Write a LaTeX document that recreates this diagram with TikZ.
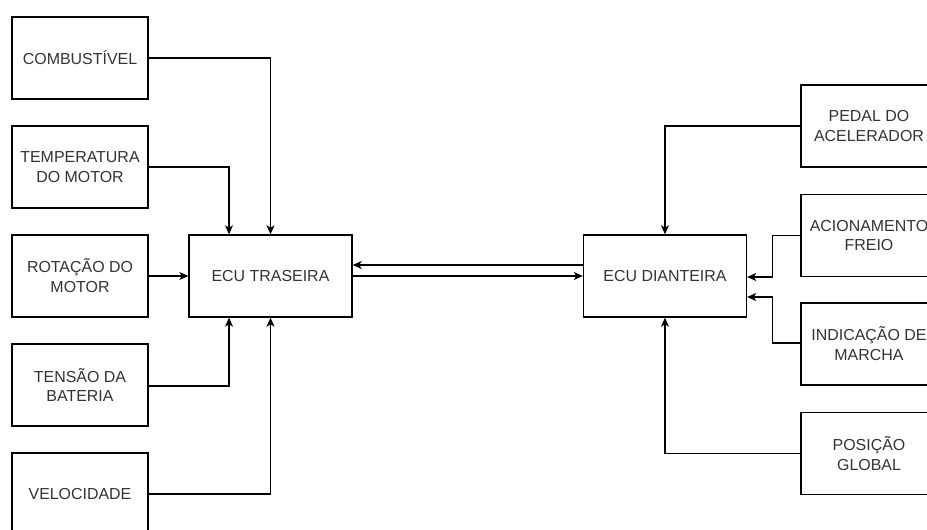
\documentclass[tikz,border=0pt]{standalone}
\usepackage{fontspec}
\setmainfont{Liberation Sans}
\usetikzlibrary{arrows.meta}
\begin{document}
\begin{tikzpicture}[x=1bp,y=-1bp,
  every node/.style={font=\fontsize{16}{20}\selectfont, text=black!80},
  sensor/.style={draw=black, line width=1.4bp, minimum width=136bp, minimum height=82bp,
                 inner sep=0pt, align=center},
  ecu/.style={draw=black, line width=1.4bp, minimum width=163bp, minimum height=82bp,
              inner sep=0pt, align=center},
  link/.style={draw=black, line width=1.2bp,
               -{Stealth[length=9bp,width=8bp,inset=2.5bp]}}]
  \clip (0,0) rectangle (927,530);
  \fill[white] (0,0) rectangle (927,530);

  % rear ECU and its sensors
  \node[ecu] (ecut) at (270.5,276) {ECU TRASEIRA};
  \node[sensor] (comb) at (80,58)  {COMBUSTÍVEL};
  \node[sensor] (temp) at (80,167) {TEMPERATURA\\DO MOTOR};
  \node[sensor] (rot)  at (80,276) {ROTAÇÃO DO\\MOTOR};
  \node[sensor] (tens) at (80,385) {TENSÃO DA\\BATERIA};
  \node[sensor] (vel)  at (80,494) {VELOCIDADE};

  % front ECU and its sensors
  \node[ecu] (ecud) at (665,276) {ECU DIANTEIRA};
  \node[sensor] (pedal) at (869,126)   {PEDAL DO\\ACELERADOR};
  \node[sensor] (freio) at (869,235.5) {ACIONAMENTO\\FREIO};
  \node[sensor] (march) at (869,344)   {INDICAÇÃO DE\\MARCHA};
  \node[sensor] (gps)   at (869,453.5) {POSIÇÃO\\GLOBAL};

  % inputs to the rear ECU
  \draw[link] (comb.east) -| (ecut.north);
  \draw[link] (temp.east) -| ([xshift=-41.5bp]ecut.north);
  \draw[link] (rot.east) -- (ecut.west);
  \draw[link] ([yshift=-1bp]tens.east) -| ([xshift=-41.5bp]ecut.south);
  \draw[link] (vel.east) -| (ecut.south);

  % link between the two ECUs
  \draw[link] ([yshift=11bp]ecud.west) -- ([yshift=11bp]ecut.east);
  \draw[link] (ecut.east) -- (ecud.west);

  % inputs to the front ECU
  \draw[link] (pedal.west) -| (ecud.north);
  \draw[link] (freio.west) -- ++(-28,0) |- ([yshift=-1bp]ecud.east);
  \draw[link] ([yshift=1bp]march.west) -- ++(-28,0) |- ([yshift=-21bp]ecud.east);
  \draw[link] (gps.west) -| (ecud.south);
\end{tikzpicture}
\end{document}
